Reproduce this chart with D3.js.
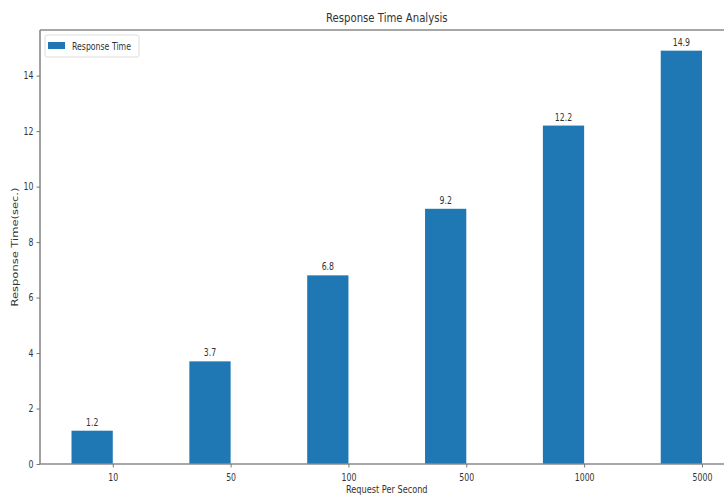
<!DOCTYPE html>
<html><head><meta charset="utf-8">
<script src="https://cdn.jsdelivr.net/npm/d3@7"></script>
<style>
html,body{margin:0;padding:0;background:#fff;overflow:hidden}
text{font-family:"DejaVu Sans",sans-serif;fill:#333}
</style></head>
<body><svg id="c" width="724" height="495"></svg>
<script>
const categories = ["10","50","100","500","1000","5000"];
const responseTimes = [1.2,3.7,6.8,9.2,12.2,14.9];
const yTicks = [0,2,4,6,8,10,12,14];
const title = "Response Time Analysis";
const xLabel = "Request Per Second";
const yLabel = "Response Time(sec.)";
const seriesName = "Response Time";

(function(){
const W=724,H=495;
const mL=40,mR=733.5,mT=30,mB=464;
const barW=0.35;
const sx=0.78; // horizontal squeeze of the source image
const svg=d3.select("#c");
const n=categories.length;
const x=d3.scaleLinear().domain([-barW/2-(n-1+barW)*0.05, n-1+barW/2+(n-1+barW)*0.05]).range([mL,mR]);
const y=d3.scaleLinear().domain([0,d3.max(responseTimes)*1.05]).range([mB,mT]);

// bars
svg.append("g").selectAll("rect").data(responseTimes).join("rect")
  .attr("x",(d,i)=>x(i-barW/2)).attr("width",(d,i)=>x(i+barW/2)-x(i-barW/2))
  .attr("y",d=>y(d)).attr("height",d=>y(0)-y(d)).attr("fill","#1f77b4");
// value labels
svg.append("g").selectAll("text").data(responseTimes).join("text")
  .attr("transform",(d,i)=>`translate(${x(i)},${y(d)-5}) scale(${sx},1)`)
  .attr("text-anchor","middle").attr("font-size",10).text(d=>d.toFixed(1));

// spines
const sp=svg.append("g").attr("stroke","#8a8a8a").attr("stroke-width",1.6).attr("fill","none");
sp.append("line").attr("x1",mL).attr("x2",mL).attr("y1",mT).attr("y2",mB);
sp.append("line").attr("x1",mL).attr("x2",W).attr("y1",mT).attr("y2",mT);
sp.append("line").attr("x1",mL).attr("x2",W).attr("y1",mB).attr("y2",mB);

// x axis
const xa=svg.append("g").attr("transform",`translate(0,${mB})`)
  .call(d3.axisBottom(x).tickValues(d3.range(n).map(i=>i+barW/2)).tickFormat((d,i)=>categories[i]).tickSize(3.5).tickPadding(4));
xa.select(".domain").remove();
xa.selectAll(".tick line").attr("stroke","#777");
xa.selectAll(".tick text").attr("font-size",10).attr("fill","#333").attr("font-family","DejaVu Sans")
  .attr("transform",`scale(${sx},1)`).attr("dy","0.95em");
// y axis
const ya=svg.append("g").attr("transform",`translate(${mL},0)`)
  .call(d3.axisLeft(y).tickValues(yTicks).tickFormat(d3.format("d")).tickSize(3.5).tickPadding(3));
ya.select(".domain").remove();
ya.selectAll(".tick line").attr("stroke","#777");
ya.selectAll(".tick text").attr("font-size",10).attr("fill","#333").attr("font-family","DejaVu Sans")
  .attr("transform",`scale(${sx},1)`).attr("x",-6.5/sx);

// title
svg.append("text").attr("transform",`translate(${(mL+mR)/2},22) scale(${sx},1)`)
  .attr("text-anchor","middle").attr("font-size",13).text(title);
// x label
svg.append("text").attr("transform",`translate(${(mL+mR)/2},492.5) scale(${sx},1)`)
  .attr("text-anchor","middle").attr("font-size",10.5).text(xLabel);
// y label
svg.append("text").attr("transform",`translate(18,${(mT+mB)/2}) scale(${sx},1) rotate(-90)`)
  .attr("text-anchor","middle").attr("font-size",11.5).text(yLabel);

// legend
const lg=svg.append("g");
lg.append("rect").attr("x",45).attr("y",35).attr("width",94).attr("height",22).attr("rx",2)
  .attr("fill","#fff").attr("stroke","#ddd").attr("stroke-width",1);
lg.append("rect").attr("x",48).attr("y",42).attr("width",17).attr("height",7).attr("fill","#1f77b4");
lg.append("text").attr("transform",`translate(72,50) scale(${sx},1)`).attr("font-size",10).text(seriesName);
})();
</script></body></html>
